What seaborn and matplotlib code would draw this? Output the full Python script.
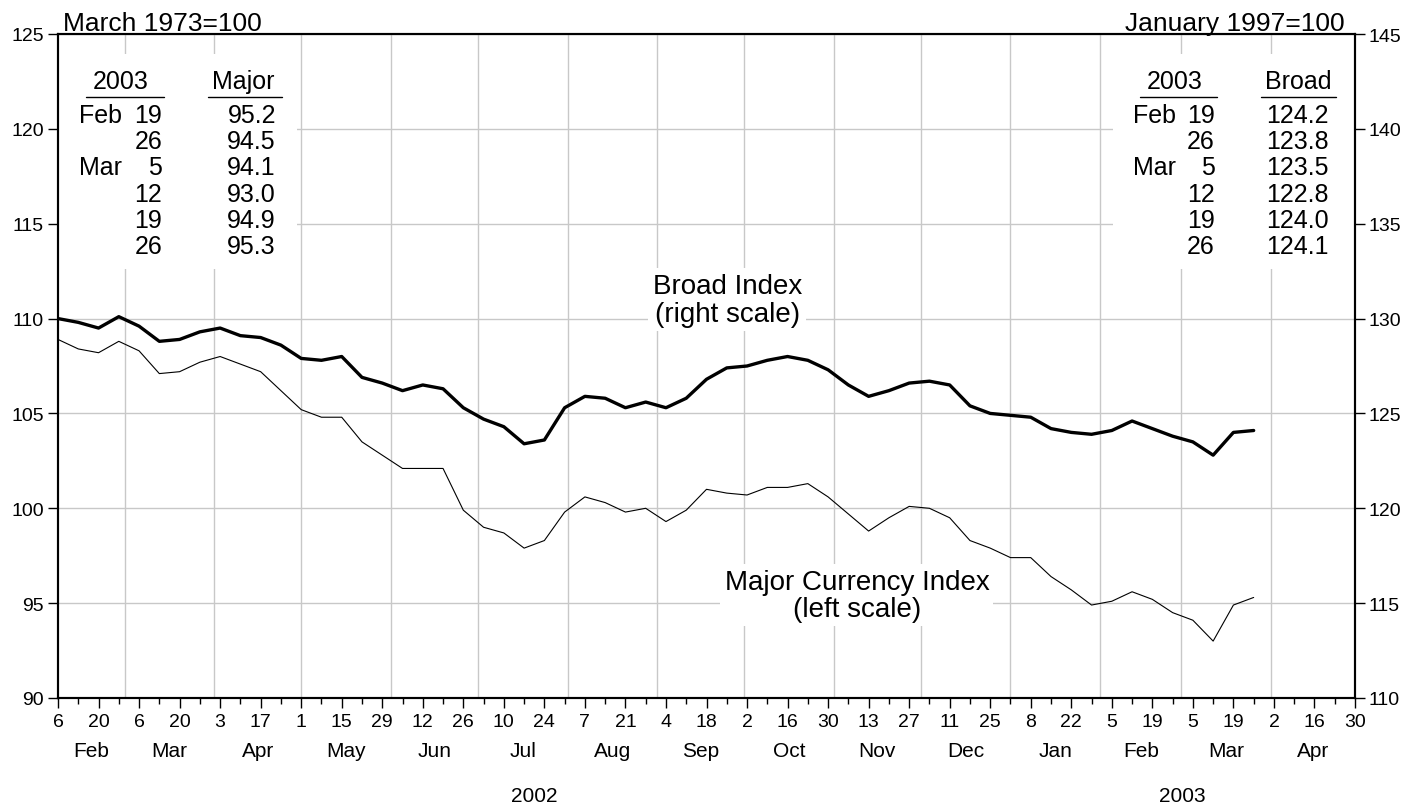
import matplotlib
matplotlib.use("Agg")
import matplotlib.pyplot as plt
import matplotlib.dates as mdates
import matplotlib.transforms as mtransforms
from matplotlib.lines import Line2D
from matplotlib.patches import Rectangle
import pandas as pd
import seaborn as sns

# Weekly readings (Wednesdays), 6 Feb 2002 - 26 Mar 2003
first_week = "2002-02-06"
major_index = [108.9, 108.4, 108.2, 108.8, 108.3, 107.1, 107.2, 107.7, 108.0, 107.6,
               107.2, 106.2, 105.2, 104.8, 104.8, 103.5, 102.8, 102.1, 102.1, 102.1,
               99.9, 99.0, 98.7, 97.9, 98.3, 99.8, 100.6, 100.3, 99.8, 100.0,
               99.3, 99.9, 101.0, 100.8, 100.7, 101.1, 101.1, 101.3, 100.6, 99.7,
               98.8, 99.5, 100.1, 100.0, 99.5, 98.3, 97.9, 97.4, 97.4, 96.4,
               95.7, 94.9, 95.1, 95.6, 95.2, 94.5, 94.1, 93.0, 94.9, 95.3]
broad_index = [130.0, 129.8, 129.5, 130.1, 129.6, 128.8, 128.9, 129.3, 129.5, 129.1,
               129.0, 128.6, 127.9, 127.8, 128.0, 126.9, 126.6, 126.2, 126.5, 126.3,
               125.3, 124.7, 124.3, 123.4, 123.6, 125.3, 125.9, 125.8, 125.3, 125.6,
               125.3, 125.8, 126.8, 127.4, 127.5, 127.8, 128.0, 127.8, 127.3, 126.5,
               125.9, 126.2, 126.6, 126.7, 126.5, 125.4, 125.0, 124.9, 124.8, 124.2,
               124.0, 123.9, 124.1, 124.6, 124.2, 123.8, 123.5, 122.8, 124.0, 124.1]

table_months = ["Feb", "", "Mar", "", "", ""]
table_days = ["19", "26", "5", "12", "19", "26"]

axis_start = pd.Timestamp("2002-02-06")
axis_end = pd.Timestamp("2003-04-30")
left_ticks = [90, 95, 100, 105, 110, 115, 120, 125]
right_ticks = [110, 115, 120, 125, 130, 135, 140, 145]

df = pd.DataFrame({
    "date": pd.date_range(first_week, periods=len(major_index), freq="7D"),
    "major": major_index,
    "broad": broad_index,
})

sns.set_theme(style="ticks")
plt.rcParams["font.family"] = ["Liberation Sans", "DejaVu Sans"]
plt.rcParams["text.color"] = "black"
plt.rcParams["axes.labelcolor"] = "black"
plt.rcParams["xtick.color"] = "black"
plt.rcParams["ytick.color"] = "black"

W, H = 1422, 812
fig = plt.figure(figsize=(W / 100, H / 100), dpi=100)


def fx(p):
    return p / W


def fy(p):
    return 1 - p / H


ax = fig.add_axes([fx(58), fy(699), (1355 - 58) / W, (699 - 35) / H])
ax2 = ax.twinx()
grid_c = "#c8c8c8"

sns.lineplot(data=df, x="date", y="major", ax=ax, color="black", lw=0.8, zorder=3)
sns.lineplot(data=df, x="date", y="broad", ax=ax2, color="black", lw=2.4, zorder=3)

ax.set_xlim(axis_start, axis_end)
ax.set_ylim(90, 125)
ax2.set_ylim(110, 145)
ax.set_yticks(left_ticks)
ax2.set_yticks(right_ticks)
ax.set_xlabel("")
ax.set_ylabel("")
ax2.set_ylabel("")

# horizontal grid + month-start vertical grid
ax.set_axisbelow(True)
ax.yaxis.grid(True, color=grid_c, lw=1)
for m in pd.date_range("2002-03-01", "2003-04-01", freq="MS"):
    ax.axvline(m, color=grid_c, lw=1, zorder=0.6)

# x ticks: labelled every two weeks, minor every other week
major_dates = pd.date_range(axis_start, axis_end, freq="14D")
minor_dates = pd.date_range(axis_start + pd.Timedelta(days=7), axis_end, freq="14D")
ax.xaxis.set_major_locator(matplotlib.ticker.FixedLocator(mdates.date2num(major_dates)))
ax.xaxis.set_major_formatter(matplotlib.ticker.FixedFormatter([str(d.day) for d in major_dates]))
ax.xaxis.set_minor_locator(matplotlib.ticker.FixedLocator(mdates.date2num(minor_dates)))
ax.tick_params(axis="x", which="major", length=7, width=1, pad=4, labelsize=14)
ax.tick_params(axis="x", which="minor", length=4.5, width=1)
ax.tick_params(axis="y", length=7, width=1, pad=3, labelsize=14)
ax2.tick_params(axis="y", length=7, width=1, pad=3, labelsize=14)

for a in (ax, ax2):
    for s in a.spines.values():
        s.set_visible(True)
        s.set_linewidth(1.5)
        s.set_color("black")

# month and year labels under the axis
trans = mtransforms.blended_transform_factory(ax.transData, ax.transAxes)


def span_mid(a, b):
    a = max(a, axis_start)
    b = min(b, axis_end)
    return a + (b - a) / 2


for m in pd.date_range("2002-02-01", "2003-04-01", freq="MS"):
    mid = span_mid(m, m + pd.offsets.MonthBegin(1))
    ax.text(mid, -(752 - 699) / 664, m.strftime("%b"), transform=trans,
            ha="center", va="center", fontsize=15)
for y in (2002, 2003):
    mid = span_mid(pd.Timestamp(f"{y}-01-01"), pd.Timestamp(f"{y + 1}-01-01"))
    ax.text(mid, -(797 - 699) / 664, str(y), transform=trans,
            ha="center", va="center", fontsize=15)

# scale captions
fig.text(fx(63), fy(31), "March 1973=100", ha="left", va="baseline", fontsize=19)
fig.text(fx(1345), fy(31), "January 1997=100", ha="right", va="baseline", fontsize=19)

# series labels
ax.text(0.516, 0.60, "Broad Index\n(right scale)", transform=ax.transAxes,
        ha="center", va="center", fontsize=20, linespacing=1.1, zorder=4,
        bbox=dict(fc="white", ec="none", pad=3))
ax.text(0.616, 0.155, "Major Currency Index\n(left scale)", transform=ax.transAxes,
        ha="center", va="center", fontsize=20, linespacing=1.05, zorder=4,
        bbox=dict(fc="white", ec="none", pad=3))


# summary tables in the top corners
def draw_table(x0, x1, date_hdr_c, date_line, month_x, day_x, val_hdr_c, val_line, val_x,
               header, values):
    ax.add_patch(Rectangle(((x0 - 58) / 1297, (699 - 270) / 664), (x1 - x0) / 1297,
                           (270 - 55) / 664, transform=ax.transAxes, fc="white",
                           ec="none", zorder=1.5))
    fig.text(fx(date_hdr_c), fy(82), "2003", ha="center", va="center", fontsize=18)
    fig.text(fx(val_hdr_c), fy(82), header, ha="center", va="center", fontsize=18)
    for (a, b) in (date_line, val_line):
        fig.add_artist(Line2D([fx(a), fx(b)], [fy(98), fy(98)], color="black", lw=1))
    for i, (mo, dy, v) in enumerate(zip(table_months, table_days, values)):
        yy = fy(116 + i * 26.2)
        if mo:
            fig.text(fx(month_x), yy, mo, ha="left", va="center", fontsize=18)
        fig.text(fx(day_x), yy, dy, ha="right", va="center", fontsize=18)
        fig.text(fx(val_x), yy, f"{v:.1f}", ha="right", va="center", fontsize=18)


draw_table(58, 297, 121, (86, 164), 79, 162, 243, (208, 282), 276,
           "Major", major_index[-6:])
draw_table(1113, 1355, 1175, (1140, 1217), 1133, 1215, 1298, (1261, 1336), 1329,
           "Broad", broad_index[-6:])

fig.savefig("out.png", dpi=100)
